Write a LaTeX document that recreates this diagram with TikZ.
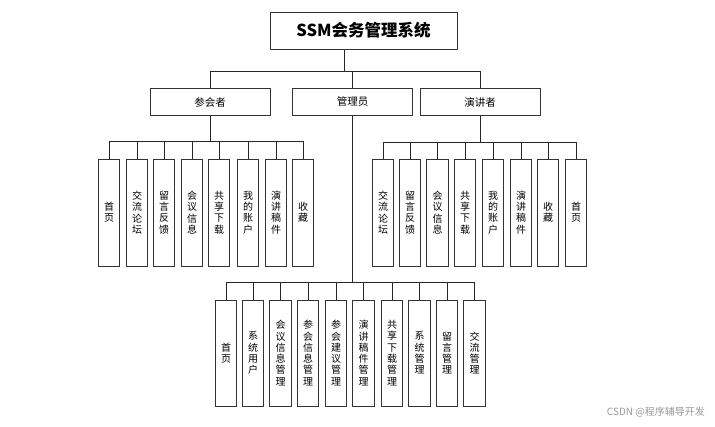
\documentclass[tikz,border=0pt]{standalone}
\usepackage{fontspec}
\setmainfont{Noto Sans CJK SC}
\begin{document}
\begin{tikzpicture}[x=1pt,y=-1pt,
  box/.style={draw=black!80,line width=1pt,fill=white,rectangle,inner sep=0pt},
  titlebox/.style={box,minimum width=187pt,minimum height=37pt,font=\fontsize{16.5}{19}\selectfont\bfseries},
  midbox/.style={box,minimum width=120pt,minimum height=27pt,font=\fontsize{10.5}{12}\selectfont},
  leaf/.style={box,minimum width=21.5pt,minimum height=107pt,align=center,font=\fontsize{10}{11.3}\selectfont},
  leafb/.style={leaf,minimum height=106pt},
  conn/.style={draw=black!85,line width=0.9pt},
  wm/.style={text=black!40,font=\fontsize{10}{12}\selectfont,inner sep=0pt}
]
\useasboundingbox[fill=white] (0,0) rectangle (715,426);

\node[titlebox] (top) at (363.5,30.5) {SSM会务管理系统};
\node[midbox] (p1) at (210,102) {参会者};
\node[midbox] (p2) at (352.7,102) {管理员};
\node[midbox] (p3) at (480,102) {演讲者};
\coordinate (tj) at ([xshift=-19.5pt]top.south);

% participant leaves
\node[leaf] (a1) at (109,212.5) {首\\页};
\node[leaf] (a2) at (137,212.5) {交\\流\\论\\坛};
\node[leaf] (a3) at (164,212.5) {留\\言\\反\\馈};
\node[leaf] (a4) at (192,212.5) {会\\议\\信\\息};
\node[leaf] (a5) at (219,212.5) {共\\享\\下\\载};
\node[leaf] (a6) at (248,212.5) {我\\的\\账\\户};
\node[leaf] (a7) at (276,212.5) {演\\讲\\稿\\件};
\node[leaf] (a8) at (303,212.5) {收\\藏};

% speaker leaves
\node[leaf] (b1) at (383,212.5) {交\\流\\论\\坛};
\node[leaf] (b2) at (410,212.5) {留\\言\\反\\馈};
\node[leaf] (b3) at (437.5,212.5) {会\\议\\信\\息};
\node[leaf] (b4) at (465,212.5) {共\\享\\下\\载};
\node[leaf] (b5) at (493,212.5) {我\\的\\账\\户};
\node[leaf] (b6) at (521,212.5) {演\\讲\\稿\\件};
\node[leaf] (b7) at (548,212.5) {收\\藏};
\node[leaf] (b8) at (576,212.5) {首\\页};

% admin leaves
\node[leafb] (c1) at (226,353) {首\\页};
\node[leafb] (c2) at (253,353) {系\\统\\用\\户};
\node[leafb] (c3) at (280.5,353) {会\\议\\信\\息\\管\\理};
\node[leafb] (c4) at (308,353) {参\\会\\信\\息\\管\\理};
\node[leafb] (c5) at (336,353) {参\\会\\建\\议\\管\\理};
\node[leafb] (c6) at (363.5,353) {演\\讲\\稿\\件\\管\\理};
\node[leafb] (c7) at (392,353) {共\\享\\下\\载\\管\\理};
\node[leafb] (c8) at (419.5,353) {系\\统\\管\\理};
\node[leafb] (c9) at (447,353) {留\\言\\管\\理};
\node[leafb] (c10) at (474.7,353) {交\\流\\管\\理};

% connectors
\foreach \p in {p1,p2,p3}
  \draw[conn] (tj) -- ++(0,22) -| (\p.north);
\foreach \c in {a1,a2,a3,a4,a5,a6,a7,a8}
  \draw[conn] (p1.south) -- ++(0,25) -| (\c.north);
\foreach \c in {b1,b2,b3,b4,b5,b6,b7,b8}
  \draw[conn] (p3.south) -- ++(0,26) -| (\c.north);
\foreach \c in {c1,c2,c3,c4,c5,c6,c7,c8,c9,c10}
  \draw[conn] (p2.south) -- ++(0,166) -| (\c.north);

\node[wm,anchor=east] (wmk) at (705,412) {CSDN @程序辅导开发};
\end{tikzpicture}
\end{document}
